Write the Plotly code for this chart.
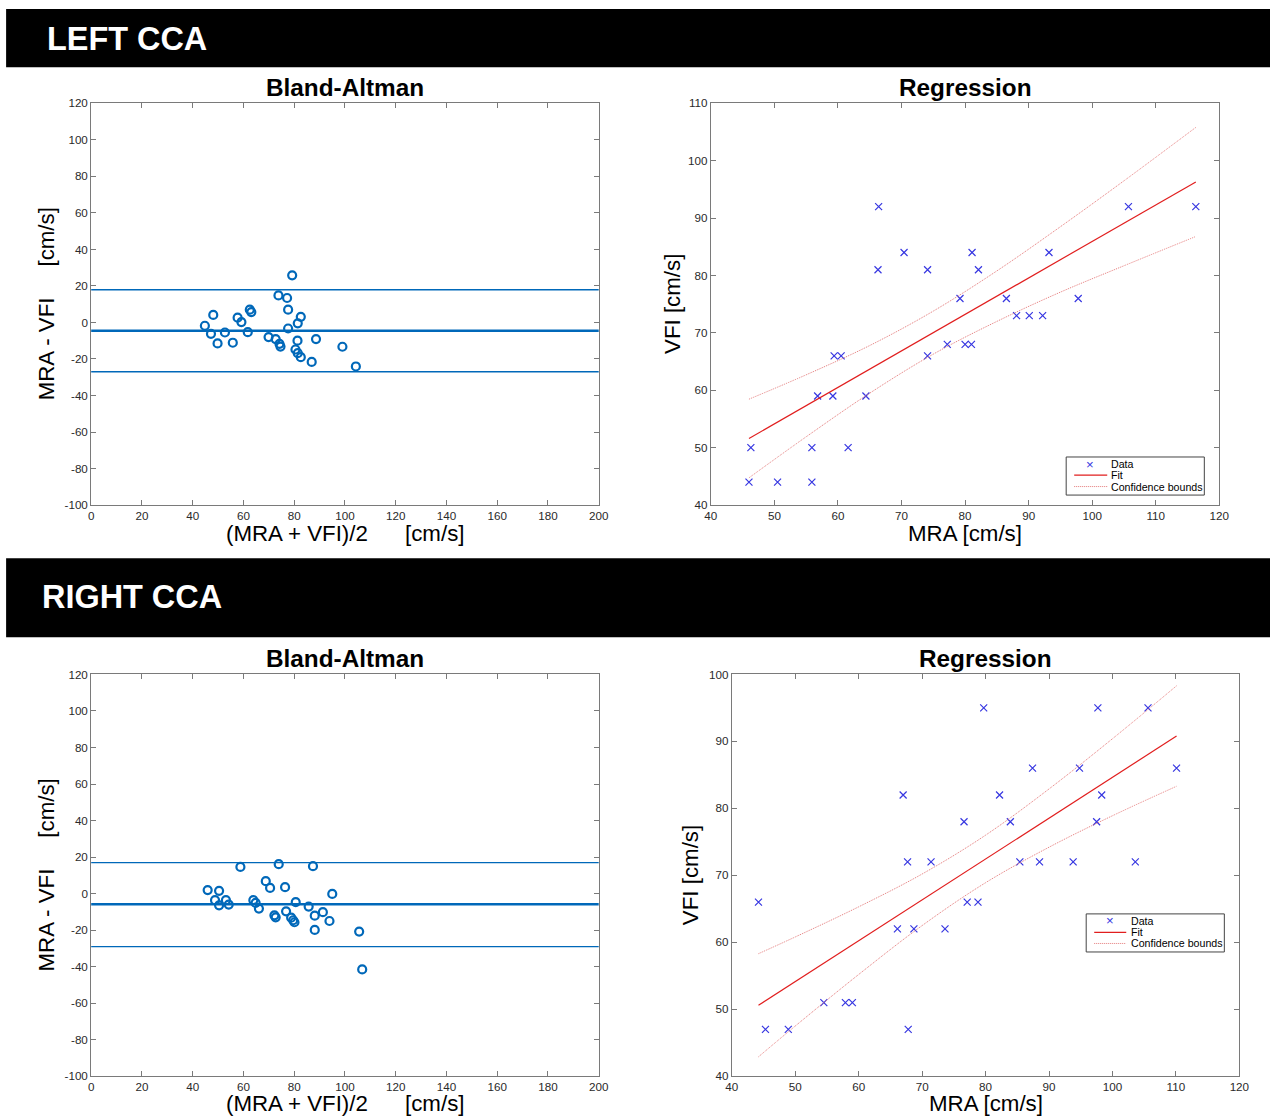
import plotly.graph_objects as go

# The page is captured with the browser's 8px body margin and a slight uniform downscale;
# reference pixel positions R are mapped to figure pixels f = R / K - M.
K = 0.9865
M = 8
W, H = 1280, 1126
FONT = "Liberation Sans, Arial, Helvetica, sans-serif"

# ---------------- DATA ----------------
# LEFT CCA - Bland-Altman (mean, difference)
la_mean = [44.8, 48.1, 47.2, 49.8, 52.7, 55.8, 57.7, 59.2, 61.7, 62.5, 63.1, 69.9, 72.7, 73.8, 74.2,
           74.6, 77.2, 77.6, 77.6, 79.2, 81.4, 82.6, 81.3, 80.5, 81.4, 82.6, 88.6, 86.9, 99.0, 104.3]
la_diff = [-1.8, 4.1, -6.2, -11.5, -5.5, -11.1, 2.6, 0.2, -5.3, 7.0, 5.7, -8.0, -9.1, 14.8, -11.7,
           -13.2, 13.4, 7.0, -3.3, 25.8, -0.5, 3.1, -10.0, -14.8, -16.8, -19.0, -9.1, -21.6, -13.3, -24.1]
la_limits = [17.9, -4.6, -27.0]  # upper LoA, mean bias, lower LoA

# LEFT CCA - Regression (MRA, VFI)
lr_mra = [46.3, 46.0, 50.5, 55.9, 55.9, 56.8, 59.2, 59.4, 60.5, 61.6, 64.4, 66.4, 66.3, 70.4, 74.1,
          74.1, 77.2, 79.2, 80.0, 81.0, 81.1, 82.1, 86.5, 88.1, 90.1, 92.2, 93.2, 97.8, 105.7, 116.3]
lr_vfi = [50, 44, 44, 44, 50, 59, 59, 66, 66, 50, 59, 92, 81, 84, 66,
          81, 68, 76, 68, 68, 84, 81, 76, 73, 73, 73, 84, 76, 92, 92]
lr_fit_x = [46.0, 116.3]
lr_fit_y = [51.6, 96.3]
lr_cb_x = [46.0, 55, 65, 75, 85, 95, 105, 116.3]
lr_cb_up = [58.45, 62.7, 67.8, 73.8, 80.8, 88.5, 96.5, 105.8]
lr_cb_lo = [44.75, 51.9, 59.5, 66.3, 72.0, 77.1, 81.7, 86.8]

# RIGHT CCA - Bland-Altman
ra_mean = [45.9, 50.4, 48.8, 50.4, 53.1, 54.2, 58.8, 63.9, 64.8, 66.1, 68.8, 70.5, 72.2, 72.7, 73.9,
           76.4, 76.8, 78.8, 79.6, 80.1, 80.6, 85.7, 87.4, 88.1, 88.1, 91.3, 93.9, 95.0, 105.6, 106.8]
ra_diff = [1.9, 1.5, -3.6, -6.4, -3.6, -6.0, 14.6, -3.6, -5.1, -8.2, 6.8, 3.1, -11.9, -13.0, 16.1,
           3.5, -9.7, -13.2, -14.6, -15.7, -4.7, -7.1, 15.0, -12.1, -19.9, -10.2, -15.0, -0.2, -20.8, -41.5]
ra_limits = [17.0, -5.9, -29.0]

# RIGHT CCA - Regression
rr_mra = [44.2, 45.3, 48.9, 54.5, 57.9, 59.0, 66.1, 67.0, 67.7, 67.8, 68.7, 71.4, 73.6, 76.6, 77.1,
          78.8, 79.7, 82.2, 83.9, 85.4, 87.4, 88.5, 93.8, 94.8, 97.5, 97.7, 98.3, 103.6, 105.6, 110.1]
rr_vfi = [66, 47, 47, 51, 51, 51, 62, 82, 72, 47, 62, 72, 62, 78, 66,
          66, 95, 82, 78, 72, 86, 72, 72, 86, 78, 95, 82, 72, 95, 86]
rr_fit_x = [44.2, 110.1]
rr_fit_y = [50.6, 90.8]
rr_cb_x = [44.2, 50, 60, 70, 80, 90, 100, 110.1]
rr_cb_up = [58.3, 60.8, 65.3, 70.2, 76.0, 82.9, 90.4, 98.3]
rr_cb_lo = [42.9, 47.5, 55.2, 62.5, 68.9, 74.2, 78.9, 83.3]

# tick values / labels (hyphen minus as in the original)
ba_xticks = [0, 20, 40, 60, 80, 100, 120, 140, 160, 180, 200]
ba_yticks = [-100, -80, -60, -40, -20, 0, 20, 40, 60, 80, 100, 120]
ba_yticklabels = ["-100", "-80", "-60", "-40", "-20", "0", "20", "40", "60", "80", "100", "120"]
reg_xticks = [40, 50, 60, 70, 80, 90, 100, 110, 120]
reg_yticks_left = [40, 50, 60, 70, 80, 90, 100, 110]
reg_yticks_right = [40, 50, 60, 70, 80, 90, 100]
legend_labels = ["Data", "Fit", "Confidence bounds"]

# ---------------- STYLE ----------------
BA_BLUE = "rgb(0,104,185)"
X_BLUE = "rgb(55,55,225)"
RED = "rgb(225,30,30)"
CB_RED = "rgb(228,120,120)"
FRAME = "#7a7a7a"


def fs(size):
    return round(size / K, 2)


def fx(px):
    return (px / K - M) / W


def fy(py):
    return 1 - (py / K - M) / H


def dom_x(p0, p1):
    return [fx(p0), fx(p1)]


def dom_y(p_top, p_bot):
    return [fy(p_bot), fy(p_top)]


fig = go.Figure()

# Bland-Altman scatter
for xs, ys, xa, ya in ((la_mean, la_diff, "x", "y"), (ra_mean, ra_diff, "x3", "y3")):
    fig.add_trace(go.Scatter(x=xs, y=ys, mode="markers", xaxis=xa, yaxis=ya, showlegend=False,
                             marker=dict(symbol="circle-open", size=8, color=BA_BLUE,
                                         line=dict(width=2.2, color=BA_BLUE))))


def add_reg(xs, ys, fxs, fys, cbx, cbu, cbl, xa, ya):
    fig.add_trace(go.Scatter(x=xs, y=ys, mode="markers", xaxis=xa, yaxis=ya, name=legend_labels[0],
                             showlegend=False,
                             marker=dict(symbol="x-thin", size=7, color=X_BLUE, line=dict(width=1.2, color=X_BLUE))))
    fig.add_trace(go.Scatter(x=fxs, y=fys, mode="lines", xaxis=xa, yaxis=ya, name=legend_labels[1],
                             showlegend=False, line=dict(color=RED, width=1.2)))
    for cb in (cbu, cbl):
        fig.add_trace(go.Scatter(x=cbx, y=cb, mode="lines", xaxis=xa, yaxis=ya, name=legend_labels[2],
                                 showlegend=False,
                                 line=dict(color=CB_RED, width=1, dash="1px,1px", shape="spline")))


add_reg(lr_mra, lr_vfi, lr_fit_x, lr_fit_y, lr_cb_x, lr_cb_up, lr_cb_lo, "x2", "y2")
add_reg(rr_mra, rr_vfi, rr_fit_x, rr_fit_y, rr_cb_x, rr_cb_up, rr_cb_lo, "x4", "y4")

axis_common = dict(showline=True, linecolor=FRAME, linewidth=1, mirror="ticks", ticks="inside", ticklen=5,
                   tickcolor=FRAME, tickwidth=1, showgrid=False, zeroline=False,
                   tickfont=dict(family=FONT, size=fs(11.5), color="#2a2a2a"))

shapes = []
# black banners
shapes.append(dict(type="rect", xref="paper", yref="paper", x0=fx(8), x1=1, y0=fy(68), y1=fy(10),
                   fillcolor="black", line=dict(width=0), layer="below"))
shapes.append(dict(type="rect", xref="paper", yref="paper", x0=fx(8), x1=1, y0=fy(637), y1=fy(558),
                   fillcolor="black", line=dict(width=0), layer="below"))

# Bland-Altman horizontal lines
for xa, ya, lims in (("x", "y", la_limits), ("x3", "y3", ra_limits)):
    for i, v in enumerate(lims):
        shapes.append(dict(type="line", xref=xa + " domain", yref=ya, x0=0, x1=1, y0=v, y1=v,
                           line=dict(color=BA_BLUE, width=2.5 if i == 1 else 1.3)))

ann = []


def txt(text, px, py, size, bold=False, color="black", angle=0, xanchor="center"):
    ann.append(dict(text=("<b>%s</b>" % text) if bold else text, x=fx(px), y=fy(py), xref="paper",
                    yref="paper", showarrow=False, xanchor=xanchor, yanchor="middle", textangle=angle,
                    font=dict(family=FONT, size=fs(size), color=color)))


NB = "\u00a0"
txt("LEFT CCA", 47, 40, 32, bold=True, color="white", xanchor="left")
txt("RIGHT CCA", 42, 597, 32, bold=True, color="white", xanchor="left")
txt("Bland-Altman", 346.5, 88, 24, bold=True)
txt("Regression", 966, 88, 24, bold=True)
txt("Bland-Altman", 346.5, 658, 24, bold=True)
txt("Regression", 986.5, 658, 24, bold=True)
ba_x = "(MRA + VFI)/2" + NB * 6 + "[cm/s]"
ba_y = "MRA - VFI" + NB * 5 + "[cm/s]"
txt(ba_x, 346.5, 533, 22)
txt(ba_x, 346.5, 1102, 22)
txt(ba_y, 48, 304.5, 22, angle=-90)
txt(ba_y, 48, 874.5, 22, angle=-90)
txt("MRA [cm/s]", 966, 533, 22)
txt("MRA [cm/s]", 986.5, 1102, 22)
txt("VFI [cm/s]", 673, 304.5, 22, angle=-90)
txt("VFI [cm/s]", 692, 874.5, 22, angle=-90)


# compact MATLAB-style legends (box, sample glyphs, labels)
def legend_box(bx0, bx1, by0, by1, rows, mx, lx0, lx1, tx):
    shapes.append(dict(type="rect", xref="paper", yref="paper", x0=fx(bx0), x1=fx(bx1), y0=fy(by1),
                       y1=fy(by0), fillcolor="white", line=dict(color="#444444", width=1)))
    ann.append(dict(text="×", x=fx(mx), y=fy(rows[0]), xref="paper", yref="paper", showarrow=False,
                    xanchor="center", yanchor="middle", font=dict(family=FONT, size=fs(13), color=X_BLUE)))
    shapes.append(dict(type="line", xref="paper", yref="paper", x0=fx(lx0), x1=fx(lx1), y0=fy(rows[1]),
                       y1=fy(rows[1]), line=dict(color=RED, width=1.2)))
    shapes.append(dict(type="line", xref="paper", yref="paper", x0=fx(lx0), x1=fx(lx1), y0=fy(rows[2]),
                       y1=fy(rows[2]), line=dict(color=CB_RED, width=1, dash="1px,1px")))
    for lab, ry in zip(legend_labels, rows):
        txt(lab, tx, ry, 10.5, xanchor="left")


legend_box(1067, 1205, 457, 495, [464, 475, 486.5], 1091, 1075, 1108, 1110)
legend_box(1087, 1225, 913, 951, [920, 931.5, 942.5], 1110.5, 1095, 1127, 1130)

fig.update_layout(
    width=W, height=H, margin=dict(l=0, r=0, t=0, b=0), paper_bgcolor="white", plot_bgcolor="white",
    showlegend=False,
    xaxis=dict(axis_common, domain=dom_x(93, 600), range=[0, 200], tickvals=ba_xticks, anchor="y"),
    yaxis=dict(axis_common, domain=dom_y(104, 505), range=[-100, 120], tickvals=ba_yticks,
               ticktext=ba_yticklabels, anchor="x"),
    xaxis2=dict(axis_common, domain=dom_x(712, 1220), range=[40, 120], tickvals=reg_xticks, anchor="y2"),
    yaxis2=dict(axis_common, domain=dom_y(104, 505), range=[40, 110], tickvals=reg_yticks_left, anchor="x2"),
    xaxis3=dict(axis_common, domain=dom_x(93, 600), range=[0, 200], tickvals=ba_xticks, anchor="y3"),
    yaxis3=dict(axis_common, domain=dom_y(674, 1075), range=[-100, 120], tickvals=ba_yticks,
                ticktext=ba_yticklabels, anchor="x3"),
    xaxis4=dict(axis_common, domain=dom_x(733, 1240), range=[40, 120], tickvals=reg_xticks, anchor="y4"),
    yaxis4=dict(axis_common, domain=dom_y(674, 1075), range=[40, 100], tickvals=reg_yticks_right, anchor="x4"),
    shapes=shapes, annotations=ann,
)

fig.write_html("out.html")
